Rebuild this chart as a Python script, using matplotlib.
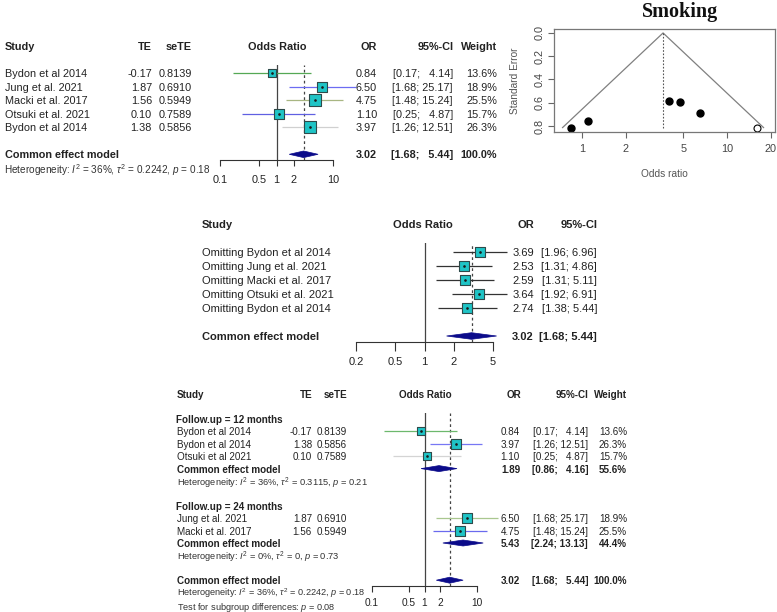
import matplotlib
matplotlib.use('Agg')
import matplotlib.pyplot as plt
import matplotlib.transforms as mtransforms
from matplotlib.ticker import NullLocator
import numpy as np

# ---- data -------------------------------------------------------------
studies = ['Bydon et al 2014', 'Jung et al. 2021', 'Macki et al. 2017',
           'Otsuki et al. 2021', 'Bydon et al 2014']
te = [-0.17, 1.87, 1.56, 0.10, 1.38]
sete = [0.8139, 0.6910, 0.5949, 0.7589, 0.5856]
odds = [0.84, 6.50, 4.75, 1.10, 3.97]
ci_lo = [0.17, 1.68, 1.48, 0.25, 1.26]
ci_hi = [4.14, 25.17, 15.24, 4.87, 12.51]
weight = [13.6, 18.9, 25.5, 15.7, 26.3]
pooled = [3.02, 1.68, 5.44]          # OR, lower, upper
het_all = ['36%', '0.2242', '0.18']  # I2, tau2, p

# funnel plot (trim-and-fill)
funnel_center = 3.62
filled_or = [16.0]
filled_se = [0.8139]

# leave-one-out
loo_labels = ['Omitting Bydon et al 2014', 'Omitting Jung et al. 2021',
              'Omitting Macki et al. 2017', 'Omitting Otsuki et al. 2021',
              'Omitting Bydon et al 2014']
loo_or = [3.69, 2.53, 2.59, 3.64, 2.74]
loo_lo = [1.96, 1.31, 1.31, 1.92, 1.38]
loo_hi = [6.96, 4.86, 5.11, 6.91, 5.44]

# subgroups by follow-up
grp_names = ['Follow.up = 12 months', 'Follow.up = 24 months']
grp_studies = [['Bydon et al 2014', 'Bydon et al 2014', 'Otsuki et al 2021'],
               ['Jung et al. 2021', 'Macki et al. 2017']]
grp_te = [[-0.17, 1.38, 0.10], [1.87, 1.56]]
grp_sete = [[0.8139, 0.5856, 0.7589], [0.6910, 0.5949]]
grp_or = [[0.84, 3.97, 1.10], [6.50, 4.75]]
grp_lo = [[0.17, 1.26, 0.25], [1.68, 1.48]]
grp_hi = [[4.14, 12.51, 4.87], [25.17, 15.24]]
grp_w = [[13.6, 26.3, 15.7], [18.9, 25.5]]
grp_pooled = [[1.89, 0.86, 4.16], [5.43, 2.24, 13.13]]
grp_pw = ['55.6%', '44.4%']
grp_het = [['36%', '0.3115', '0.21'], ['0%', '0', '0.73']]
subgroup_p = '0.08'

# ---- style ------------------------------------------------------------
W, H = 777, 612
plt.rcParams['font.family'] = ['Liberation Sans', 'DejaVu Sans']
plt.rcParams['mathtext.fontset'] = 'custom'
plt.rcParams['mathtext.rm'] = 'Liberation Sans'
plt.rcParams['mathtext.it'] = 'Liberation Sans:italic'
plt.rcParams['mathtext.bf'] = 'Liberation Sans:bold'

TXT = '#222222'
BOX = '#1FC4C6'
EDGE = '#2E4A4A'
NAVY = '#0B0B8A'
col1 = ['#55A855', '#6C6CF2', '#A8B682', '#6060E2', '#D0D0D0']
col4 = [['#6DB86D', '#7777F4', '#D4D4D4'], ['#A9C78F', '#6A6AEE']]

fig = plt.figure(figsize=(W / 100, H / 100), dpi=100)


def px_axes(x0, x1, y0, y1):
    return fig.add_axes([x0 / W, 1 - y1 / H, (x1 - x0) / W, (y1 - y0) / H])


def forest_axes(xpx, ticks, y0, row, top, axis, ticklen, pad, fs):
    ax = px_axes(xpx[0], xpx[1], y0 + top * row, y0 + axis * row)
    ax.set_xscale('log')
    ax.set_xlim(ticks[0], ticks[-1])
    ax.set_ylim(axis, top)
    for s in ['left', 'right', 'top']:
        ax.spines[s].set_visible(False)
    ax.spines['bottom'].set_color('#333333')
    ax.spines['bottom'].set_linewidth(0.8)
    ax.set_xticks(ticks)
    ax.set_xticklabels([f'{t:g}' for t in ticks])
    ax.xaxis.set_minor_locator(NullLocator())
    ax.set_yticks([])
    ax.tick_params(axis='x', length=ticklen, pad=pad, labelsize=fs,
                   color='#333333', labelcolor=TXT, width=0.8)
    ax.patch.set_visible(False)
    ax.row = row
    return ax


def put(ax, xpx, y, s, ha='left', fs=7.8, bold=False, color=TXT):
    tr = mtransforms.blended_transform_factory(fig.transFigure, ax.transData)
    ax.text(xpx / W, y, s, transform=tr, ha=ha, va='center_baseline',
            fontsize=fs, fontweight='bold' if bold else 'normal',
            color=color, clip_on=False)


def ci_text(lo, hi, width):
    return f'[{lo:.2f}; ' + ' ' * 2 * (width - len(f'{hi:.2f}')) + f'{hi:.2f}]'


def study_mark(ax, y, o, lo, hi, side, lcol):
    ax.plot([lo, hi], [y, y], color=lcol, lw=0.9, clip_on=False, zorder=2,
            solid_capstyle='butt')
    ax.scatter([o], [y], marker='s', s=(side * 0.72) ** 2, fc=BOX, ec=EDGE,
               lw=0.8, zorder=3, clip_on=False)
    ax.plot([o], [y], marker='o', ms=0.9, color='#1a1a1a', zorder=4,
            clip_on=False)


def diamond(ax, y, o, lo, hi, half_px=3.3):
    h = half_px / ax.row
    ax.fill([lo, o, hi, o], [y, y - h, y, y + h], fc=NAVY, ec=NAVY, lw=0.5,
            zorder=3, clip_on=False)


def ref_lines(ax, est):
    ax.axvline(1, color='#444444', lw=0.9, zorder=1)
    ax.axvline(est, color='#444444', lw=0.9, ls=(0, (2.2, 2.2)), zorder=1)


def het_text(vals):
    return (r'Heterogeneity: $I^2$ = ' + vals[0] + r', $\tau^2$ = ' + vals[1]
            + r', $p$ = ' + vals[2])


# ---- panel 1: forest plot --------------------------------------------
ax1 = forest_axes((220, 333), [0.1, 0.5, 1, 2, 10], 73.3, 13.5, -0.6, 6.45,
                  4.5, 6, 7.8)
ref_lines(ax1, pooled[0])
wd = max(len(f'{v:.2f}') for v in ci_hi + [pooled[2]])
put(ax1, 5, -2, 'Study', bold=True)
put(ax1, 152, -2, 'TE', 'right', bold=True)
put(ax1, 192, -2, 'seTE', 'right', bold=True)
put(ax1, 277, -2, 'Odds Ratio', 'center', bold=True)
put(ax1, 377, -2, 'OR', 'right', bold=True)
put(ax1, 454, -2, '95%-CI', 'right', bold=True)
put(ax1, 497, -2, 'Weight', 'right', bold=True)
for i in range(len(studies)):
    study_mark(ax1, i, odds[i], ci_lo[i], ci_hi[i], 2.3 * np.sqrt(weight[i]), col1[i])
    put(ax1, 5, i, studies[i])
    put(ax1, 152, i, f'{te[i]:.2f}', 'right')
    put(ax1, 192, i, f'{sete[i]:.4f}', 'right')
    put(ax1, 377, i, f'{odds[i]:.2f}', 'right')
    put(ax1, 453, i, ci_text(ci_lo[i], ci_hi[i], wd), 'right')
    put(ax1, 497, i, f'{weight[i]:.1f}%', 'right')
diamond(ax1, 6, *pooled)
put(ax1, 5, 6, 'Common effect model', bold=True)
put(ax1, 377, 6, f'{pooled[0]:.2f}', 'right', bold=True)
put(ax1, 453, 6, ci_text(pooled[1], pooled[2], wd), 'right', bold=True)
put(ax1, 497, 6, '100.0%', 'right', bold=True)
put(ax1, 4, 7, het_text(het_all), fs=7.2, color='#333333')

# ---- panel 2: funnel plot --------------------------------------------
ax2 = px_axes(554, 775, 29, 132)
ax2.set_xscale('log')
ax2.set_xlim(0.641, 21.4)
ax2.set_ylim(0.852, -0.034)
semax = max(sete)
ax2.plot([funnel_center * np.exp(-1.96 * semax), funnel_center,
          funnel_center * np.exp(1.96 * semax)], [semax, 0, semax],
         color='#808080', lw=0.9)
ax2.plot([funnel_center, funnel_center], [0, semax], color='#555555',
         lw=0.8, ls=(0, (1.5, 1.5)))
ax2.plot(odds, sete, 'o', ms=5, color='black')
ax2.plot(filled_or, filled_se, 'o', ms=5, mfc='white', mec='black', mew=0.8)
ax2.set_xticks([1, 2, 5, 10, 20])
ax2.set_xticklabels(['1', '2', '5', '10', '20'])
ax2.xaxis.set_minor_locator(NullLocator())
ax2.set_yticks([0, 0.2, 0.4, 0.6, 0.8])
ax2.set_yticklabels(['0.0', '0.2', '0.4', '0.6', '0.8'], rotation=90,
                    va='center')
ax2.tick_params(length=4, width=0.8, color='#666666', labelcolor='#444444',
                labelsize=7.8)
ax2.tick_params(axis='x', pad=4.5)
ax2.tick_params(axis='y', pad=3)
for s in ax2.spines.values():
    s.set_color('#777777')
    s.set_linewidth(0.9)
fig.text(515 / W, 1 - 80.5 / H, 'Standard Error', rotation=90, ha='center',
         va='center', fontsize=7.3, color='#555555')
fig.text(664.5 / W, 1 - 174 / H, 'Odds ratio', ha='center', va='center',
         fontsize=7.3, color='#555555')
fig.text(680 / W, 1 - 12 / H, 'Smoking', family='Liberation Serif',
         fontweight='bold', fontsize=14.5, ha='center', va='center',
         color='#111111')

# ---- panel 3: leave-one-out ------------------------------------------
ax3 = forest_axes((356, 493), [0.2, 0.5, 1, 2, 5], 252, 14, -0.65, 6.43,
                  6.5, 4.5, 8)
ref_lines(ax3, pooled[0])
wd3 = max(len(f'{v:.2f}') for v in loo_hi + [pooled[2]])
put(ax3, 202, -2, 'Study', bold=True, fs=8)
put(ax3, 423, -2, 'Odds Ratio', 'center', bold=True, fs=8)
put(ax3, 534, -2, 'OR', 'right', bold=True, fs=8)
put(ax3, 598, -2, '95%-CI', 'right', bold=True, fs=8)
for i in range(len(loo_labels)):
    study_mark(ax3, i, loo_or[i], loo_lo[i], loo_hi[i], 10, '#333333')
    put(ax3, 202, i, loo_labels[i], fs=8)
    put(ax3, 534, i, f'{loo_or[i]:.2f}', 'right', fs=8)
    put(ax3, 597, i, ci_text(loo_lo[i], loo_hi[i], wd3), 'right', fs=8)
diamond(ax3, 6, *pooled)
put(ax3, 202, 6, 'Common effect model', bold=True, fs=8)
put(ax3, 534, 6, f'{pooled[0]:.2f}', 'right', bold=True, fs=8)
put(ax3, 597, 6, ci_text(pooled[1], pooled[2], wd3), 'right', bold=True, fs=8)

# ---- panel 4: subgroup analysis --------------------------------------
ax4 = forest_axes((372, 477), [0.1, 0.5, 1, 2, 10], 419, 12.4, -0.5, 13.5,
                  4, 4.5, 7.3)
ref_lines(ax4, pooled[0])
fs4 = 7.1
wd4 = max(len(f'{v:.2f}') for g in grp_hi for v in g)
put(ax4, 177, -2, 'Study', bold=True, fs=fs4)
put(ax4, 312, -2, 'TE', 'right', bold=True, fs=fs4)
put(ax4, 347, -2, 'seTE', 'right', bold=True, fs=fs4)
put(ax4, 425, -2, 'Odds Ratio', 'center', bold=True, fs=fs4)
put(ax4, 521, -2, 'OR', 'right', bold=True, fs=fs4)
put(ax4, 589, -2, '95%-CI', 'right', bold=True, fs=fs4)
put(ax4, 627, -2, 'Weight', 'right', bold=True, fs=fs4)
y = 0
for g in range(len(grp_names)):
    put(ax4, 176, y, grp_names[g], bold=True, fs=fs4)
    for j in range(len(grp_studies[g])):
        y += 1
        study_mark(ax4, y, grp_or[g][j], grp_lo[g][j], grp_hi[g][j],
                   2.1 * np.sqrt(grp_w[g][j]), col4[g][j])
        put(ax4, 177, y, grp_studies[g][j], fs=fs4)
        put(ax4, 312, y, f'{grp_te[g][j]:.2f}', 'right', fs=fs4)
        put(ax4, 347, y, f'{grp_sete[g][j]:.4f}', 'right', fs=fs4)
        put(ax4, 520, y, f'{grp_or[g][j]:.2f}', 'right', fs=fs4)
        put(ax4, 588, y, ci_text(grp_lo[g][j], grp_hi[g][j], wd4), 'right', fs=fs4)
        put(ax4, 627, y, f'{grp_w[g][j]:.1f}%', 'right', fs=fs4)
    y += 1
    gp = grp_pooled[g]
    diamond(ax4, y, *gp, half_px=3.0)
    put(ax4, 177, y, 'Common effect model', bold=True, fs=fs4)
    put(ax4, 520, y, f'{gp[0]:.2f}', 'right', bold=True, fs=fs4)
    put(ax4, 588, y, ci_text(gp[1], gp[2], wd4), 'right', bold=True, fs=fs4)
    put(ax4, 627, y, grp_pw[g], 'right', bold=True, fs=fs4)
    y += 1
    put(ax4, 177, y, het_text(grp_het[g]), fs=6.7, color='#333333')
    y += 2
diamond(ax4, y, *pooled, half_px=3.0)
put(ax4, 177, y, 'Common effect model', bold=True, fs=fs4)
put(ax4, 520, y, f'{pooled[0]:.2f}', 'right', bold=True, fs=fs4)
put(ax4, 588, y, ci_text(pooled[1], pooled[2], wd4), 'right', bold=True, fs=fs4)
put(ax4, 627, y, '100.0%', 'right', bold=True, fs=fs4)
put(ax4, 177, y + 0.9, het_text(het_all), fs=6.6, color='#333333')
put(ax4, 177, y + 2.0, r'Test for subgroup differences: $p$ = ' + subgroup_p,
    fs=6.6, color='#333333')

fig.savefig('out.png', dpi=100)
